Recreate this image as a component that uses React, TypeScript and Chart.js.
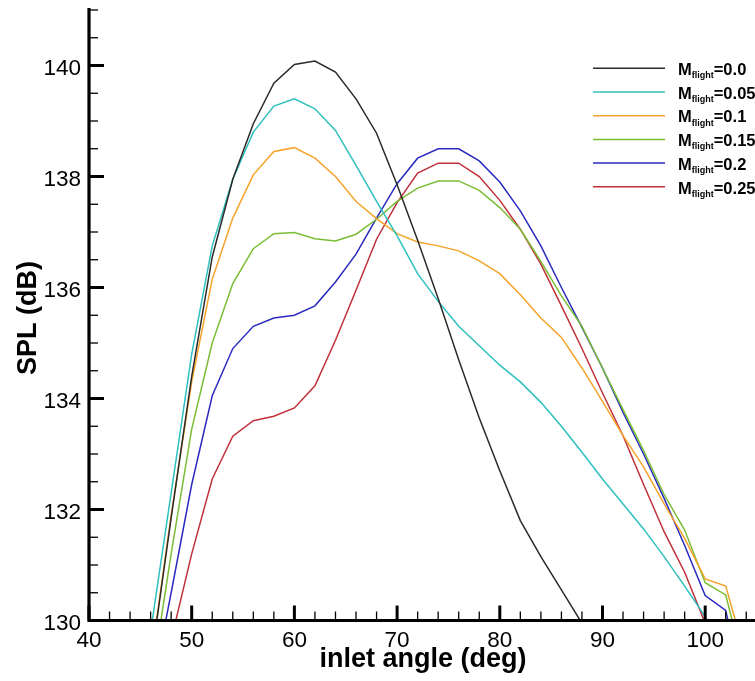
import { useEffect, useRef } from 'react';
import { Chart, registerables } from 'chart.js';

Chart.register(...registerables);

const angles = [46, 48, 50, 52, 54, 56, 58, 60, 62, 64, 66, 68, 70, 72, 74, 76, 78, 80, 82, 84, 86, 88, 90, 92, 94, 96, 98, 100, 102, 104];

const mach00 = [129.2, 131.85, 134.4, 136.55, 137.95, 138.95, 139.68, 140.02, 140.08, 139.88, 139.4, 138.78, 137.85, 136.85, 135.8, 134.7, 133.65, 132.7, 131.8, 131.15, 130.55, 129.95, 129.4, null, null, null, null, null, null, null];
const mach005 = [129.8, 132.3, 134.8, 136.75, 137.95, 138.8, 139.27, 139.4, 139.22, 138.83, 138.2, 137.55, 136.93, 136.25, 135.75, 135.3, 134.95, 134.6, 134.3, 133.93, 133.5, 133.03, 132.55, 132.1, 131.65, 131.15, 130.62, 130.07, 129.4, null];
const mach01 = [129.25, 131.9, 134.3, 136.15, 137.25, 138.03, 138.45, 138.52, 138.33, 138.0, 137.55, 137.24, 136.97, 136.82, 136.75, 136.66, 136.48, 136.25, 135.87, 135.45, 135.1, 134.55, 133.95, 133.33, 132.77, 132.1, 131.48, 130.75, 130.62, 129.3];
const mach015 = [128.8, 131.2, 133.45, 135.0, 136.07, 136.7, 136.97, 136.99, 136.88, 136.84, 136.96, 137.23, 137.55, 137.79, 137.92, 137.92, 137.75, 137.44, 137.05, 136.47, 135.85, 135.3, 134.55, 133.8, 133.06, 132.27, 131.63, 130.68, 130.46, 129.0];
const mach02 = [128.6, 130.5, 132.45, 134.05, 134.9, 135.3, 135.45, 135.5, 135.67, 136.1, 136.6, 137.25, 137.87, 138.33, 138.5, 138.5, 138.28, 137.9, 137.38, 136.75, 136.0, 135.28, 134.55, 133.75, 133.0, 132.2, 131.35, 130.45, 130.18, 128.5];
const mach025 = [128.0, 129.65, 131.2, 132.55, 133.32, 133.6, 133.68, 133.83, 134.23, 135.05, 135.95, 136.87, 137.53, 138.06, 138.24, 138.24, 138.0, 137.57, 137.05, 136.42, 135.67, 134.9, 134.1, 133.33, 132.45, 131.6, 130.87, 129.95, 129.2, null];

const seriesLabels = ['0.0', '0.05', '0.1', '0.15', '0.2', '0.25'];
const seriesValues = [mach00, mach005, mach01, mach015, mach02, mach025];
const seriesColors = ['#2a2a2a', '#2ebfbf', '#f5a32a', '#7abd35', '#2a2ac0', '#c0303a'];

const xTickLabels = [40, 50, 60, 70, 80, 90, 100];
const yTickLabels = [130, 132, 134, 136, 138, 140];

const FONT = '"Liberation Sans", Arial, Helvetica, sans-serif';

const decorPlugin = {
  id: 'decor',
  afterDraw(chart: any) {
    const ctx = chart.ctx as CanvasRenderingContext2D;
    const xs = chart.scales.x;
    const ys = chart.scales.y;
    const a = chart.chartArea;
    ctx.save();
    ctx.strokeStyle = '#000';
    ctx.fillStyle = '#000';

    // x ticks (inward)
    for (let v = 40; v <= 104.8; v += 2) {
      const px = xs.getPixelForValue(v);
      const major = v % 10 === 0;
      ctx.lineWidth = major ? 3 : 1.3;
      ctx.beginPath();
      ctx.moveTo(px, a.bottom);
      ctx.lineTo(px, a.bottom - (major ? 15 : 9));
      ctx.stroke();
    }
    // y ticks (inward)
    for (let v = 130; v <= 141.001; v += 0.5) {
      const py = ys.getPixelForValue(v);
      const major = Math.abs(v % 2) < 1e-6;
      ctx.lineWidth = major ? 3 : 1.3;
      ctx.beginPath();
      ctx.moveTo(a.left, py);
      ctx.lineTo(a.left + (major ? 15 : 9), py);
      ctx.stroke();
    }
    // axis lines
    ctx.lineWidth = 3.2;
    ctx.beginPath();
    ctx.moveTo(a.left, a.top - 2);
    ctx.lineTo(a.left, a.bottom);
    ctx.lineTo(a.right + 2, a.bottom);
    ctx.stroke();

    // tick labels
    ctx.font = `22.5px ${FONT}`;
    ctx.textBaseline = 'alphabetic';
    ctx.textAlign = 'center';
    xTickLabels.forEach((v) => {
      ctx.fillText(String(v), xs.getPixelForValue(v), a.bottom + 26.5);
    });
    ctx.textAlign = 'right';
    yTickLabels.forEach((v) => {
      ctx.fillText(String(v), a.left - 8, ys.getPixelForValue(v) + 9);
    });

    // axis titles
    ctx.font = `bold 27px ${FONT}`;
    ctx.textAlign = 'center';
    ctx.fillText('inlet angle (deg)', 423, 667);
    ctx.save();
    ctx.translate(36, 318);
    ctx.rotate(-Math.PI / 2);
    ctx.textBaseline = 'alphabetic';
    ctx.fillText('SPL (dB)', 0, 0);
    ctx.restore();

    // legend
    seriesLabels.forEach((lab, i) => {
      const ly = 68.3 + i * 23.7;
      ctx.strokeStyle = seriesColors[i];
      ctx.lineWidth = 1.5;
      ctx.beginPath();
      ctx.moveTo(593, ly);
      ctx.lineTo(665, ly);
      ctx.stroke();
      ctx.fillStyle = '#000';
      ctx.textAlign = 'left';
      ctx.textBaseline = 'alphabetic';
      let x = 678;
      ctx.font = `bold 16.5px ${FONT}`;
      ctx.fillText('M', x, ly + 6.7);
      x += ctx.measureText('M').width;
      ctx.font = `bold 9px ${FONT}`;
      ctx.fillText('flight', x, ly + 10);
      x += ctx.measureText('flight').width;
      ctx.font = `bold 16.5px ${FONT}`;
      ctx.fillText('=' + lab, x, ly + 6.7);
    });
    ctx.restore();
  },
};

export default function App() {
  const ref = useRef<HTMLCanvasElement | null>(null);
  useEffect(() => {
    if (!ref.current) return;
    const datasets = seriesValues.map((vals, i) => ({
      label: 'M_flight=' + seriesLabels[i],
      data: angles.map((ang, j) => ({ x: ang, y: vals[j] })).filter((p) => p.y !== null),
      borderColor: seriesColors[i],
      backgroundColor: seriesColors[i],
      borderWidth: 1.5,
      pointRadius: 0,
      tension: 0,
      fill: false,
      clip: 0,
    }));
    const chart = new Chart(ref.current, {
      type: 'line',
      data: { datasets },
      options: {
        responsive: false,
        animation: false,
        devicePixelRatio: 1,
        layout: { padding: { left: 89, right: 0, top: 10, bottom: 60.5 } },
        plugins: { legend: { display: false }, tooltip: { enabled: false } },
        scales: {
          x: { type: 'linear', min: 40, max: 104.85, display: false },
          y: { type: 'linear', min: 130, max: 141, display: false },
        },
      },
      plugins: [decorPlugin],
    });
    return () => chart.destroy();
  }, []);
  return (
    <div style={{ position: 'fixed', left: 0, top: 0, width: 755, height: 681, background: '#fff' }}>
      <canvas ref={ref} width={755} height={681} />
    </div>
  );
}
